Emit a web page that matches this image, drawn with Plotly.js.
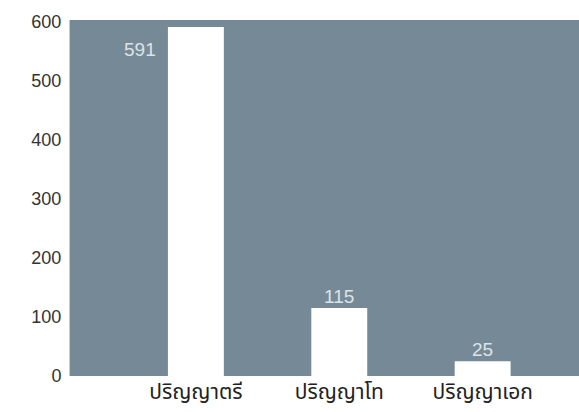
<!DOCTYPE html>
<html>
<head>
<meta charset="utf-8">
<script src="https://cdn.plot.ly/plotly-3.0.1.min.js"></script>
<style>html,body{margin:0;padding:0;background:#fff;}#chart{width:579px;height:412px;}</style>
</head>
<body>
<div id="chart"></div>
<script>
const categories = ["ปริญญาตรี", "ปริญญาโท", "ปริญญาเอก"];
const values = [591, 115, 25];
const yTicks = [0, 100, 200, 300, 400, 500, 600];

const fontFam = "Arial, 'Liberation Sans', 'Noto Sans Thai', 'DejaVu Sans', sans-serif";

const trace = {
  type: "bar",
  x: [0, 1, 2],
  y: values,
  marker: {color: "#ffffff", line: {width: 0}},
  hoverinfo: "none"
};

const annotations = values.map((v, i) => {
  if (i === 0) {
    return {x: i, y: v, xref: "x", yref: "y", text: String(v), showarrow: false,
      xanchor: "right", yanchor: "middle", xshift: -38, yshift: -22,
      font: {family: fontFam, size: 19, color: "#dde3e6"}};
  }
  return {x: i, y: v, xref: "x", yref: "y", text: String(v), showarrow: false,
    xanchor: "center", yanchor: "bottom", yshift: -1,
    font: {family: fontFam, size: 19, color: "#dde3e6"}};
});

const layout = {
  width: 579, height: 412,
  margin: {l: 70, r: 0, t: 20, b: 36, pad: 0},
  paper_bgcolor: "#ffffff",
  plot_bgcolor: "#758a96",
  bargap: 0.61,
  showlegend: false,
  font: {family: fontFam, size: 18, color: "#333333"},
  xaxis: {
    range: [-0.878, 2.672],
    tickmode: "array", tickvals: [0, 1, 2], ticktext: categories,
    showgrid: false, zeroline: false, showline: false, ticks: "",
    tickfont: {size: 21, color: "#222222"},
    ticklabelstandoff: 1,
    fixedrange: true
  },
  yaxis: {
    range: [0, 603],
    tickmode: "array", tickvals: yTicks,
    showgrid: false, zeroline: false,
    showline: true, linecolor: "#c8c8c8", linewidth: 1,
    ticks: "", ticklabelstandoff: 4,
    tickfont: {size: 18, color: "#333333"},
    fixedrange: true
  },
  annotations: annotations
};

Plotly.newPlot("chart", [trace], layout, {displayModeBar: false, staticPlot: true});
</script>
</body>
</html>
